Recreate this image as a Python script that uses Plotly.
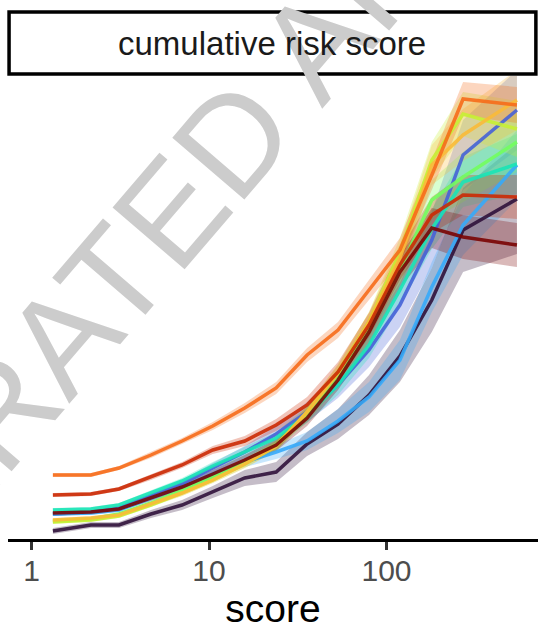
import plotly.graph_objects as go

# ---- data -------------------------------------------------------------
score = [1.32, 2.16, 3.11, 4.71, 7.05, 10.5, 15.9, 23.9, 35.7, 53.3, 79.7, 119, 180, 270, 543]

group_colors = ["#30123B", "#4662D7", "#36AAF9", "#1AE4B6", "#72FE5E",
                "#C7EF34", "#FABA39", "#F66B19", "#CB2A04", "#7A0403"]

risk_g1 = [0.08, 0.14, 0.14, 0.25, 0.34, 0.47, 0.61, 0.67, 0.95, 1.15, 1.44, 1.83, 2.39, 3.09, 3.40]
risk_g2 = [0.25, 0.27, 0.31, 0.43, 0.55, 0.71, 0.87, 1.05, 1.27, 1.54, 1.89, 2.34, 2.99, 3.84, 4.29]
risk_g3 = [0.25, 0.26, 0.29, 0.41, 0.52, 0.65, 0.77, 0.87, 0.98, 1.18, 1.42, 1.79, 2.52, 3.14, 3.74]
risk_g4 = [0.29, 0.30, 0.34, 0.46, 0.58, 0.73, 0.87, 1.01, 1.24, 1.54, 1.94, 2.49, 3.10, 3.57, 3.75]
risk_g5 = [0.18, 0.20, 0.25, 0.36, 0.49, 0.62, 0.77, 0.94, 1.24, 1.61, 2.09, 2.69, 3.39, 3.62, 3.97]
risk_g6 = [0.17, 0.19, 0.23, 0.34, 0.46, 0.59, 0.75, 0.93, 1.27, 1.67, 2.17, 2.87, 3.79, 4.25, 4.10]
risk_g7 = [0.19, 0.21, 0.24, 0.35, 0.46, 0.59, 0.75, 0.93, 1.27, 1.66, 2.17, 2.81, 3.74, 4.04, 4.39]
risk_g8 = [0.64, 0.64, 0.71, 0.84, 0.98, 1.13, 1.31, 1.51, 1.84, 2.09, 2.49, 2.89, 3.64, 4.40, 4.34]
risk_g9 = [0.44, 0.45, 0.50, 0.62, 0.74, 0.89, 0.98, 1.14, 1.34, 1.67, 2.14, 2.74, 3.24, 3.44, 3.42]
risk_g10 = [0.26, 0.27, 0.30, 0.41, 0.52, 0.65, 0.79, 0.94, 1.21, 1.59, 2.07, 2.67, 3.11, 3.02, 2.94]

ci_g1 = [0.03, 0.03, 0.03, 0.04, 0.05, 0.06, 0.08, 0.10, 0.12, 0.15, 0.20, 0.26, 0.32, 0.42, 0.55]
ci_g2 = [0.02, 0.02, 0.02, 0.03, 0.04, 0.05, 0.06, 0.08, 0.10, 0.13, 0.17, 0.22, 0.28, 0.35, 0.40]
ci_g3 = [0.02, 0.02, 0.02, 0.03, 0.03, 0.04, 0.05, 0.07, 0.09, 0.12, 0.15, 0.20, 0.25, 0.30, 0.35]
ci_g4 = [0.02, 0.02, 0.02, 0.03, 0.03, 0.04, 0.05, 0.06, 0.08, 0.10, 0.13, 0.16, 0.20, 0.25, 0.30]
ci_g5 = [0.02, 0.02, 0.02, 0.02, 0.03, 0.03, 0.04, 0.05, 0.07, 0.09, 0.12, 0.15, 0.20, 0.25, 0.30]
ci_g6 = [0.02, 0.02, 0.02, 0.02, 0.03, 0.03, 0.04, 0.05, 0.06, 0.08, 0.10, 0.14, 0.18, 0.22, 0.28]
ci_g7 = [0.02, 0.02, 0.02, 0.02, 0.03, 0.03, 0.04, 0.05, 0.06, 0.08, 0.10, 0.14, 0.20, 0.26, 0.30]
ci_g8 = [0.02, 0.02, 0.02, 0.03, 0.03, 0.04, 0.05, 0.06, 0.07, 0.08, 0.10, 0.12, 0.15, 0.17, 0.18]
ci_g9 = [0.02, 0.02, 0.02, 0.03, 0.03, 0.04, 0.05, 0.06, 0.08, 0.10, 0.12, 0.15, 0.18, 0.20, 0.22]
ci_g10 = [0.02, 0.02, 0.02, 0.03, 0.03, 0.04, 0.05, 0.06, 0.08, 0.10, 0.13, 0.16, 0.20, 0.22, 0.22]

risk_series = [risk_g1, risk_g2, risk_g3, risk_g4, risk_g5,
               risk_g6, risk_g7, risk_g8, risk_g9, risk_g10]
ci_series = [ci_g1, ci_g2, ci_g3, ci_g4, ci_g5, ci_g6, ci_g7, ci_g8, ci_g9, ci_g10]

x_tick_vals = [1, 10, 100]
x_tick_text = ["1", "10", "100"]
strip_label = "cumulative risk score"
x_title = "score"
watermark = "GENERATED ARTIFACT"

FONT = "Liberation Sans, Arial, Helvetica, sans-serif"


def rgba(hex_color, a):
    h = hex_color.lstrip("#")
    r, g, b = int(h[0:2], 16), int(h[2:4], 16), int(h[4:6], 16)
    return f"rgba({r},{g},{b},{a})"


fig = go.Figure()

# ribbons first
for col, y, ci in zip(group_colors, risk_series, ci_series):
    upper = [v + c for v, c in zip(y, ci)]
    lower = [v - c for v, c in zip(y, ci)]
    fig.add_trace(go.Scatter(
        x=score + score[::-1],
        y=upper + lower[::-1],
        fill="toself",
        fillcolor=rgba(col, 0.28),
        line=dict(width=0),
        mode="lines",
        hoverinfo="skip",
        showlegend=False,
    ))

# lines on top
for col, y in zip(group_colors, risk_series):
    fig.add_trace(go.Scatter(
        x=score, y=y, mode="lines",
        line=dict(color=rgba(col, 0.9), width=3.5),
        showlegend=False,
    ))

fig.update_layout(
    width=538, height=637,
    margin=dict(l=8, r=0, t=76, b=98),
    paper_bgcolor="white", plot_bgcolor="white",
    font=dict(family=FONT),
    showlegend=False,
    xaxis=dict(
        type="log", range=[-0.1324, 2.8535],
        showgrid=False, zeroline=False,
        showline=True, linewidth=3, linecolor="black",
        ticks="outside", ticklen=8, tickwidth=3, tickcolor="#333333",
        tickvals=x_tick_vals, ticktext=x_tick_text,
        ticklabelstandoff=-5,
        tickfont=dict(size=30, color="#4d4d4d", family=FONT),
        title=dict(text=x_title, font=dict(size=39, color="black", family=FONT), standoff=6),
    ),
    yaxis=dict(visible=False, range=[0, 4.63], showgrid=False, zeroline=False),
)

# watermark (behind the strip)
fig.add_annotation(text=watermark, xref="paper", yref="paper",
                   x=0.3925, y=0.8197, xanchor="center", yanchor="middle",
                   showarrow=False, textangle=-49.4,
                   font=dict(size=138, color="#cccccc", family=FONT))

# facet strip
fig.add_shape(type="rect", xref="paper", yref="paper",
              x0=0.002, x1=0.996, y0=1.0043, y1=1.138,
              line=dict(color="black", width=3.5), fillcolor="rgba(255,255,255,0)", layer="above")
fig.add_annotation(text=strip_label, xref="paper", yref="paper",
                   x=0.498, y=1.071, xanchor="center", yanchor="middle", showarrow=False,
                   font=dict(size=33, color="#1a1a1a", family=FONT))

fig.write_html("out.html")
